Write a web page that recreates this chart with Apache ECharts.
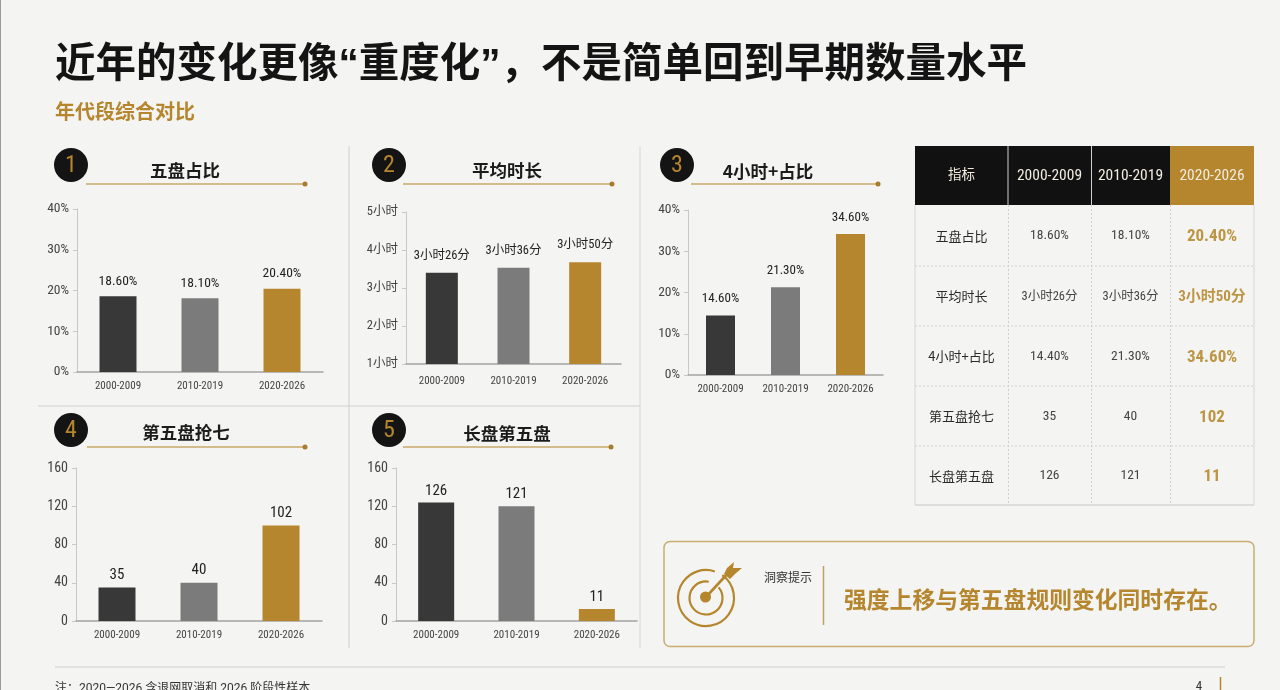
<!DOCTYPE html>
<html><head><meta charset="utf-8">
<style>html,body{margin:0;padding:0;background:#f4f4f2}#c{width:1280px;height:690px}</style>
<script src="https://cdn.jsdelivr.net/npm/echarts@6/dist/echarts.min.js"></script>
</head><body><div id="c"></div>
<script>
var categories = ['2000-2009','2010-2019','2020-2026'];
var barColors = ['#383838','#7b7b7b','#b5862d'];
var panelTitles = ['五盘占比','平均时长','4小时+占比','第五盘抢七','长盘第五盘'];
var shareValues = [18.6,18.1,20.4];
var shareLabels = ['18.60%','18.10%','20.40%'];
var hoursValues = [3.4,3.53,3.68];
var hoursLabels = ['3小时26分','3小时36分','3小时50分'];
var fourPlusValues = [14.4,21.3,34.2];
var fourPlusLabels = ['14.60%','21.30%','34.60%'];
var decidersValues = [35,40,100];
var decidersLabels = ['35','40','102'];
var longFifthValues = [124,120,12.5];
var longFifthLabels = ['126','121','11'];
var tableHead = ['指标','2000-2009','2010-2019','2020-2026'];
var tableRows = [
 ['五盘占比','18.60%','18.10%','20.40%'],
 ['平均时长','3小时26分','3小时36分','3小时50分'],
 ['4小时+占比','14.40%','21.30%','34.60%'],
 ['第五盘抢七','35','40','102'],
 ['长盘第五盘','126','121','11']
];
var titleText = '近年的变化更像“重度化”，不是简单回到早期数量水平';
var subtitleText = '年代段综合对比';
var insightLabel = '洞察提示';
var insightText = '强度上移与第五盘规则变化同时存在。';
var noteText = '注：2020—2026 含退网取消和 2026 阶段性样本';
var pageNumber = '4';

var GOLD='#b5862d', CJK='"Noto Sans CJK SC"', NARROW='"Roboto Condensed","Noto Sans CJK SC"';
var panels = [
 {v:shareValues,l:shareLabels,min:0,max:40,iv:10,fmt:'{value}%',box:[77,209,246,163],w:37,d:8,fs:13.5,yf:13.5,xm:9,c:[71,165],line:[86,305,184],tx:185,ty:170},
 {v:hoursValues,l:hoursLabels,min:1,max:5,iv:1,fmt:'{value}小时',box:[406,212,215,152],w:32,d:11,fs:12.5,yf:12.5,xm:12,c:[389,165],line:[403,612,184],tx:507,ty:170},
 {v:fourPlusValues,l:fourPlusLabels,min:0,max:40,iv:10,fmt:'{value}%',box:[688,210,195,165],w:29,d:10,fs:13,yf:13.5,xm:9,c:[677,165],line:[691,878,184],tx:768,ty:171},
 {v:decidersValues,l:decidersLabels,min:0,max:160,iv:40,fmt:'{value}',box:[76,468,246,153],w:37,d:5,fs:15,yf:14,xm:9,c:[71,430],line:[87,305,447],tx:186,ty:432},
 {v:longFifthValues,l:longFifthLabels,min:0,max:160,iv:40,fmt:'{value}',box:[396,468,241,153],w:36,d:4,fs:15,yf:14,xm:9,c:[389,430],line:[403,611,447],tx:507,ty:433}
];
var grid=[],xAxis=[],yAxis=[],series=[],g=[];
function text(x,y,s,size,color,weight,align,font){
  g.push({type:'text',x:x,y:y,silent:true,style:{text:s,fontSize:size,fontWeight:weight||'normal',fill:color,align:align||'center',verticalAlign:'middle',fontFamily:font||CJK}});
}
function rect(x,y,w,h,fill,stroke,lw,dash,r){
  g.push({type:'rect',silent:true,shape:{x:x,y:y,width:w,height:h,r:r||0},style:{fill:fill||'none',stroke:stroke||'none',lineWidth:lw||1,lineDash:dash||null}});
}
function line(a,b,c,d,col,lw,dash){
  g.push({type:'line',silent:true,shape:{x1:a,y1:b,x2:c,y2:d},style:{stroke:col,lineWidth:lw||1,lineDash:dash||null}});
}
panels.forEach(function(p,i){
  grid.push({left:p.box[0],top:p.box[1],width:p.box[2],height:p.box[3]});
  xAxis.push({type:'category',gridIndex:i,data:categories,axisTick:{show:false},
    axisLine:{lineStyle:{color:'#a3a3a3',width:1.5}},
    axisLabel:{color:'#444',fontSize:11,fontFamily:NARROW,margin:p.xm,interval:0,hideOverlap:false}});
  yAxis.push({type:'value',gridIndex:i,min:p.min,max:p.max,interval:p.iv,splitLine:{show:false},
    axisLine:{show:true,lineStyle:{color:'#c8c8c8'}},
    axisTick:{show:true,length:4,lineStyle:{color:'#c8c8c8'}},
    axisLabel:{color:'#444',fontSize:p.yf,fontFamily:NARROW,formatter:p.fmt,margin:8}});
  series.push({type:'bar',xAxisIndex:i,yAxisIndex:i,barWidth:p.w,silent:true,
    data:p.v.map(function(v,k){return {value:v,itemStyle:{color:barColors[k]},
      label:{show:true,position:'top',distance:p.d,formatter:p.l[k],color:'#222',fontSize:p.fs,fontFamily:NARROW}};})});
  g.push({type:'circle',silent:true,shape:{cx:p.c[0],cy:p.c[1],r:17},style:{fill:'#141414'}});
  text(p.c[0],p.c[1]+1,String(i+1),24,GOLD,'normal','center',NARROW);
  line(p.line[0],p.line[2],p.line[1],p.line[2],'#c8a869',1.5);
  g.push({type:'circle',silent:true,shape:{cx:p.line[1],cy:p.line[2],r:2.5},style:{fill:'#a87c2e'}});
  text(p.tx,p.ty,panelTitles[i],17.5,'#1c1c1c','bold');
});
line(0.5,0,0.5,690,'#9a9a9a',1);
line(349,146,349,648,'#cfcfcf',1);
line(640,146,640,648,'#d8d8d8',1);
line(38,406,640,406,'#cfcfcf',1);
line(55,667,1225,667,'#cfcfcf',1);
text(55,66,titleText,40.5,'#141414','bold','left','"Liberation Sans","Noto Sans CJK SC"');
text(55,111,subtitleText,20,GOLD,'bold','left');
text(55,689,noteText,12,'#333','normal','left','"Roboto","Noto Sans CJK SC"');
text(1199,687,pageNumber,13,'#333','normal','center',NARROW);
line(1220.5,677,1220.5,690,GOLD,1.5);
var colX=[915,1008,1091,1170,1254], rowY=[146,205,266,326,386,446,505];
rect(915,146,339,59,'#111');
rect(1170,146,84,59,GOLD);
line(1008,146,1008,205,'#d0d0d0',1);
line(1091.5,146,1091.5,205,'#d0d0d0',1);
tableHead.forEach(function(s,c){
  text((colX[c]+colX[c+1])/2,176,s,c==0?13.5:15.5,'#f2ede0','normal','center',NARROW);
});
for(var r=2;r<6;r++) line(915,rowY[r],1254,rowY[r],'#cfcfcf',1,[2,2]);
line(915,505,1254,505,'#d6d6d6',1.5);
line(915,205,915,505,'#d6d6d6',1);
line(1254,205,1254,505,'#d6d6d6',1);
[1008,1091,1170].forEach(function(x){line(x+.5,205,x+.5,505,'#cfcfcf',1,[2,2]);});
tableRows.forEach(function(row,r){
  var y=(rowY[r+1]+rowY[r+2])/2+0.5;
  row.forEach(function(s,c){
    var x=(colX[c]+colX[c+1])/2;
    if(c==0) text(x,y,s,13,'#2a2a2a','normal');
    else if(c==3) text(x,y+1,s,r==1?15:17,'#bd9645','bold','center',NARROW);
    else text(x,y,s,r==1?12.5:13.5,'#444','normal','center',NARROW);
  });
});
rect(664,541.5,590,105,'none','#c9ad72',1.5,null,6);
var cx=706,cy=598;
g.push({type:'arc',silent:true,shape:{cx:cx,cy:cy,r:28,startAngle:-0.95,endAngle:-1.25,clockwise:true},style:{fill:'none',stroke:GOLD,lineWidth:2.2}});
g.push({type:'arc',silent:true,shape:{cx:cx,cy:cy,r:16.5,startAngle:-0.7,endAngle:-1.4,clockwise:true},style:{fill:'none',stroke:GOLD,lineWidth:2.2}});
g.push({type:'circle',silent:true,shape:{cx:cx-0.5,cy:cy-1,r:5.5},style:{fill:GOLD}});
line(cx,cy-1,730,571,GOLD,2.6);
g.push({type:'polygon',silent:true,shape:{points:[[724,574],[727,568],[734,562],[733,568],[742,568],[735,574],[730,579]]},style:{fill:GOLD}});
text(788,577,insightLabel,12,'#333','normal');
line(823.5,566,823.5,625,'#c0a063',1.5);
text(844,599,insightText,22.8,GOLD,'bold','left');

var chart=echarts.init(document.getElementById('c'),null,{renderer:'canvas'});
chart.setOption({animation:false,backgroundColor:'#f4f4f2',grid:grid,xAxis:xAxis,yAxis:yAxis,series:series,graphic:{elements:g}});
</script></body></html>
